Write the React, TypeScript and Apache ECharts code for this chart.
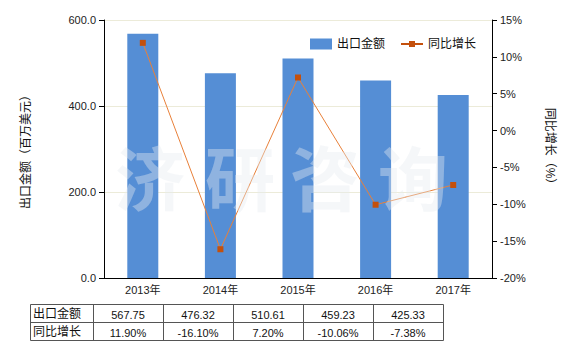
import React, { useEffect, useRef } from "react";
import * as echarts from "echarts";

const categories = ["2013年", "2014年", "2015年", "2016年", "2017年"];
const exportValues = [567.75, 476.32, 510.61, 459.23, 425.33];
const growthValues = [11.9, -16.1, 7.2, -10.06, -7.38];
const seriesNames = ["出口金额", "同比增长"];
const watermarkChars = ["济", "研", "咨", "询"];

export default function App() {
  const ref = useRef<HTMLDivElement>(null);
  useEffect(() => {
    document.body.style.margin = "0";
    if (!ref.current) return;
    const chart = echarts.init(ref.current, undefined, { renderer: "svg" });
    const font = "'Liberation Sans', 'Noto Sans CJK SC', sans-serif";

    const tableLeft = 30;
    const firstColW = 63;
    const colW = 70;
    const rowTop = 304;
    const rowH = 18;
    const tableRight = tableLeft + firstColW + colW * categories.length;
    const tableEls: any[] = [];
    tableEls.push({
      type: "rect",
      shape: { x: tableLeft + 0.5, y: rowTop + 0.5, width: tableRight - tableLeft, height: rowH * 2 },
      style: { fill: "none", stroke: "#555", lineWidth: 1 },
    });
    tableEls.push({
      type: "line",
      shape: { x1: tableLeft, y1: rowTop + rowH + 0.5, x2: tableRight, y2: rowTop + rowH + 0.5 },
      style: { stroke: "#555", lineWidth: 1 },
    });
    for (let i = 0; i < categories.length; i++) {
      const x = tableLeft + firstColW + colW * i + 0.5;
      tableEls.push({
        type: "line",
        shape: { x1: x, y1: rowTop, x2: x, y2: rowTop + rowH * 2 },
        style: { stroke: "#555", lineWidth: 1 },
      });
    }
    const rows = [
      exportValues.map((v) => v.toFixed(2)),
      growthValues.map((v) => v.toFixed(2) + "%"),
    ];
    rows.forEach((row, r) => {
      const cy = rowTop + rowH * r + rowH / 2 + 1;
      tableEls.push({
        type: "text",
        x: tableLeft + 3,
        y: cy,
        style: { text: seriesNames[r], fill: "#111", font: `12px ${font}`, verticalAlign: "middle", align: "left" },
      });
      row.forEach((t, i) => {
        tableEls.push({
          type: "text",
          x: tableLeft + firstColW + colW * i + colW / 2,
          y: cy + 1,
          style: { text: t, fill: "#111", font: `11px ${font}`, verticalAlign: "middle", align: "center" },
        });
      });
    });

    const wmX = [150, 240, 325, 413];
    const wmEls = watermarkChars.map((c, i) => ({
      type: "text",
      x: wmX[i],
      y: 175,
      z: 100,
      silent: true,
      style: {
        text: c,
        fill: "rgba(230,235,240,0.4)",
        font: `bold 70px 'Noto Sans CJK SC', sans-serif`,
        align: "center",
        verticalAlign: "middle",
      },
    }));

    chart.setOption({
      animation: false,
      textStyle: { fontFamily: font },
      grid: { left: 104, right: 88, top: 20, bottom: 72 },
      legend: {
        left: 305,
        top: 33,
        itemWidth: 22,
        itemHeight: 11,
        itemGap: 16,
        textStyle: { fontSize: 12, color: "#111" },
        data: [
          { name: seriesNames[0], icon: "rect" },
          { name: seriesNames[1], icon: "path://M0,4.5 H22 V6.5 H0 Z M8,2.5 H14 V8.5 H8 Z" },
        ],
      },
      xAxis: {
        type: "category",
        data: categories,
        axisLine: { lineStyle: { color: "#000" } },
        axisTick: { alignWithLabel: true, length: 4, lineStyle: { color: "#000" } },
        axisLabel: { color: "#222", fontSize: 11, margin: 6 },
      },
      yAxis: [
        {
          type: "value",
          min: 0,
          max: 600,
          interval: 200,
          name: "出口金额（百万美元）",
          nameLocation: "middle",
          nameGap: 72,
          nameTextStyle: { fontSize: 12, color: "#111" },
          axisLine: { show: true, lineStyle: { color: "#000" } },
          axisTick: { show: true, length: 5, lineStyle: { color: "#000" } },
          axisLabel: { color: "#222", fontSize: 11, formatter: (v: number) => v.toFixed(1) },
          splitLine: { lineStyle: { color: "#ecebd9" } },
        },
        {
          type: "value",
          min: -20,
          max: 15,
          interval: 5,
          name: "同比增长（%）",
          nameLocation: "middle",
          nameGap: 52,
          nameRotate: -90,
          nameTextStyle: { fontSize: 12, color: "#111" },
          axisLine: { show: true, lineStyle: { color: "#000" } },
          axisTick: { show: true, length: 5, lineStyle: { color: "#000" } },
          axisLabel: { color: "#222", fontSize: 11, formatter: (v: number) => v + "%" },
          splitLine: { show: false },
        },
      ],
      series: [
        {
          name: seriesNames[0],
          type: "bar",
          data: exportValues,
          barWidth: 31,
          itemStyle: { color: "#558ed5" },
        },
        {
          name: seriesNames[1],
          type: "line",
          yAxisIndex: 1,
          data: growthValues,
          symbol: "rect",
          symbolSize: 6,
          itemStyle: { color: "#c4500c" },
          lineStyle: { color: "#e8803a", width: 1 },
        },
      ],
      graphic: [...tableEls, ...wmEls],
    });
    return () => chart.dispose();
  }, []);
  return <div ref={ref} style={{ width: 580, height: 350 }} />;
}
